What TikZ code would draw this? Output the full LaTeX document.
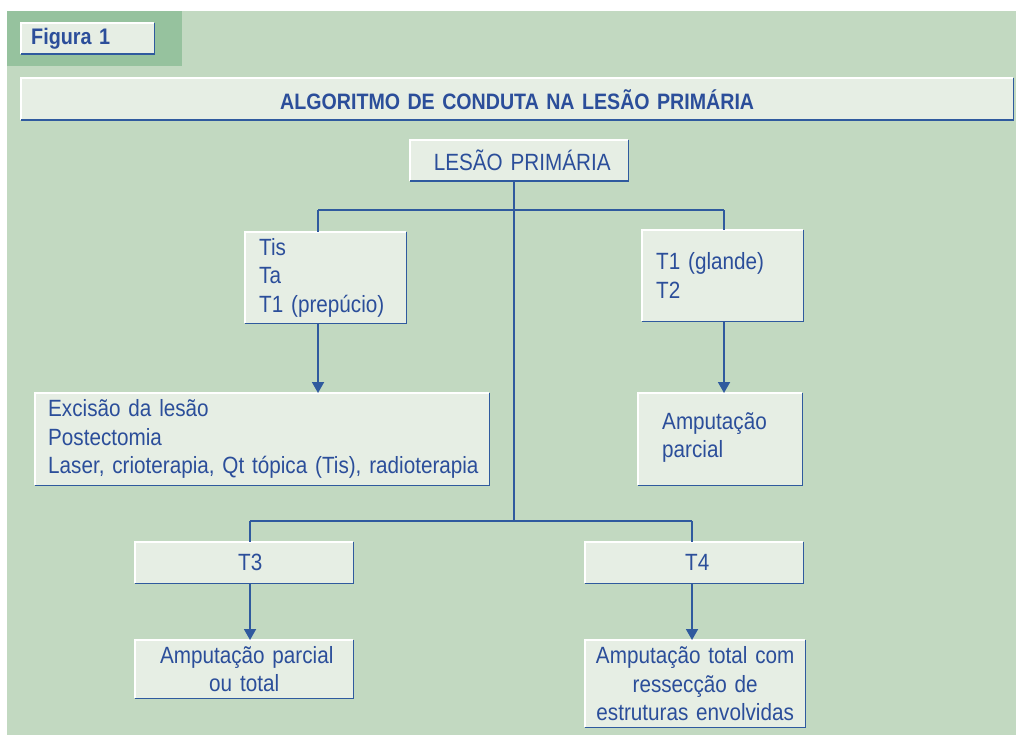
\documentclass[tikz,border=0pt]{standalone}
\usepackage{fontspec}
\setmainfont{Liberation Sans}[FakeStretch=0.88,WordSpace=0.85]
\usetikzlibrary{arrows.meta}
\definecolor{bggreen}{HTML}{C2D9C1}
\definecolor{hdgreen}{HTML}{96C29E}
\definecolor{boxfill}{HTML}{E6EEE4}
\definecolor{textblue}{HTML}{2B4E9A}
\definecolor{lineblue}{HTML}{2F5A9E}
\newcommand\bevel[1]{%
  \draw[white,line width=1.3pt] (#1.south west) -- (#1.north west) -- (#1.north east);
  \draw[lineblue,line width=1.8pt] (#1.north east) -- (#1.south east) -- (#1.south west);}
\newcommand\ind[1]{\hspace*{#1}}
\tikzset{
  box/.style={fill=boxfill, anchor=north west, inner ysep=0pt, text=textblue,
    font=\fontsize{23.5}{28.5}\selectfont},
  lbox/.style={box, align=left, inner xsep=0pt},
  cbox/.style={box, align=center, inner xsep=0pt},
  conn/.style={lineblue, line width=1.8pt},
  arr/.style={conn, -{Triangle[width=12pt,length=11pt]}},
}
\begin{document}
\begin{tikzpicture}[x=1pt,y=-1pt]
\useasboundingbox (0,0) rectangle (1016,735);
\fill[white] (0,0) rectangle (1016,735);
\fill[bggreen] (7,11) rectangle (1016,735);
\fill[hdgreen] (7,11) rectangle (182,66);

% header boxes
\node[lbox, minimum width=133pt, minimum height=31pt, text width=133pt,
  font=\fontsize{22.5}{27}\selectfont\bfseries] (fig) at (21,23) {\ind{10pt}Figura 1};
\bevel{fig}
\node[cbox, minimum width=992pt, minimum height=42pt, text width=992pt,
  font=\fontsize{22.3}{27}\selectfont\bfseries] (title) at (21,78) {ALGORITMO DE CONDUTA NA LESÃO PRIMÁRIA};
\bevel{title}

% flow boxes
\node[cbox, minimum width=218pt, minimum height=41pt, text width=218pt] (lp) at (410,140) {\ind{6pt}LESÃO PRIMÁRIA};
\bevel{lp}
\node[lbox, minimum width=161pt, minimum height=91pt, text width=161pt] (tis) at (245,232) {\ind{14pt}Tis\\\ind{14pt}Ta\\\ind{14pt}T1 (prepúcio)};
\bevel{tis}
\node[lbox, minimum width=161pt, minimum height=91pt, text width=161pt] (t1g) at (642,230) {\ind{14pt}T1 (glande)\\\ind{14pt}T2};
\bevel{t1g}
\node[lbox, minimum width=454pt, minimum height=92pt, text width=454pt] (exc) at (35,393) {\ind{13pt}Excisão da lesão\\\ind{13pt}Postectomia\\\ind{13pt}Laser, crioterapia, Qt tópica (Tis), radioterapia};
\bevel{exc}
\node[lbox, minimum width=164pt, minimum height=92pt, text width=164pt] (app) at (638,393) {\ind{24pt}Amputação\\\ind{24pt}parcial\\[-20pt]\mbox{}};
\bevel{app}
\node[cbox, minimum width=218pt, minimum height=41pt, text width=218pt] (t3) at (135,542) {\ind{12pt}T3};
\bevel{t3}
\node[cbox, minimum width=218pt, minimum height=41pt, text width=218pt] (t4) at (585,542) {\ind{6pt}T4};
\bevel{t4}
\node[cbox, minimum width=218pt, minimum height=58pt, text width=218pt, font=\fontsize{23.5}{27.5}\selectfont] (apt) at (135,640) {\ind{5pt}Amputação parcial\\ou total};
\bevel{apt}
\node[cbox, minimum width=220pt, minimum height=87pt, text width=220pt] (atc) at (585,640) {Amputação total com\\ressecção de\\estruturas envolvidas};
\bevel{atc}

% junction coordinates
\coordinate (j1) at (514,210);
\coordinate (j2) at (514,521);
\coordinate (cL) at (318,210);
\coordinate (cR) at (724,210);
\coordinate (bL) at (250,521);
\coordinate (bR) at (692,521);

% connectors
\draw[conn] (lp.south -| j1) -- (j2);
\draw[conn] (cL) -- (cR);
\draw[conn] (cL) -- (cL |- tis.north);
\draw[conn] (cR) -- (cR |- t1g.north);
\draw[arr] (tis.south -| cL) -- (cL |- exc.north);
\draw[arr] (t1g.south -| cR) -- (cR |- app.north);
\draw[conn] (bL) -- (bR);
\draw[conn] (bL) -- (bL |- t3.north);
\draw[conn] (bR) -- (bR |- t4.north);
\draw[arr] (t3.south -| bL) -- (bL |- apt.north);
\draw[arr] (t4.south -| bR) -- (bR |- atc.north);
\end{tikzpicture}
\end{document}
